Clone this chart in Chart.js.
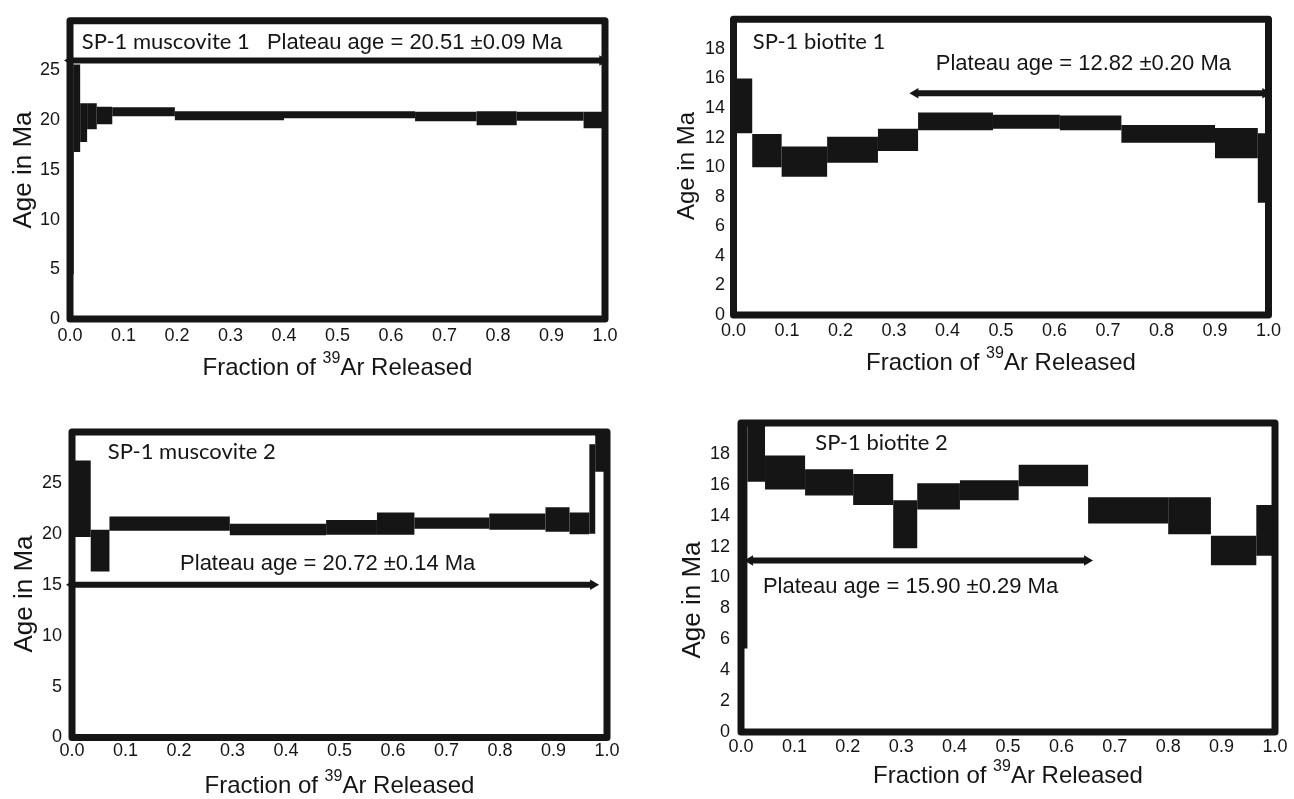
<!DOCTYPE html>
<html lang="en">
<head>
<meta charset="UTF-8" />
<title>SP-1 age spectra</title>
<script src="https://cdn.jsdelivr.net/npm/chart.js"></script>
<style>
  body { margin: 0; background: #fff; }
  .wrap { position: relative; width: 1294px; height: 799px; }
  canvas { position: absolute; left: 0; top: 0; }
</style>
</head>
<body>
<div class="wrap">
  <canvas id="mus1" width="1294" height="799"></canvas>
  <canvas id="bio1" width="1294" height="799"></canvas>
  <canvas id="mus2" width="1294" height="799"></canvas>
  <canvas id="bio2" width="1294" height="799"></canvas>
</div>
<script>
const INK = "#151515";

// step boundaries (cumulative fraction of 39Ar) and 2-sigma age bounds (Ma)
const mus1Steps = [0, 0.007, 0.019, 0.032, 0.05, 0.079, 0.196, 0.40, 0.645, 0.76, 0.835, 0.96, 1.0];
const mus1Lo = [4.5, 16.8, 17.8, 19.1, 19.6, 20.4, 20.0, 20.2, 19.9, 19.5, 19.95, 19.2];
const mus1Hi = [25.6, 25.6, 21.7, 21.7, 21.35, 21.3, 20.9, 20.9, 20.85, 20.9, 20.85, 20.85];
const mus1Plateau = { from: 0.0, to: 0.995, age: 26.0 };

const bio1Steps = [0, 0.035, 0.09, 0.175, 0.27, 0.345, 0.485, 0.61, 0.725, 0.9, 0.98, 1.0];
const bio1Lo = [12.3, 10.0, 9.35, 10.3, 11.1, 12.5, 12.6, 12.5, 11.65, 10.6, 7.6];
const bio1Hi = [16.0, 12.25, 11.4, 12.05, 12.6, 13.7, 13.55, 13.5, 12.85, 12.65, 12.3];
const bio1Plateau = { from: 0.34, to: 0.994, age: 15.0 };

const mus2Steps = [0, 0.035, 0.07, 0.295, 0.475, 0.57, 0.64, 0.78, 0.885, 0.93, 0.967, 0.978, 1.0];
const mus2Lo = [19.7, 16.3, 20.3, 19.85, 19.9, 19.9, 20.5, 20.4, 20.2, 19.95, 20.0, 26.1];
const mus2Hi = [27.2, 20.4, 21.7, 21.0, 21.35, 22.1, 21.6, 22.0, 22.6, 22.1, 28.8, 30.6];
const mus2Plateau = { from: 0.0, to: 0.974, age: 15.0 };

const bio2Steps = [0, 0.012, 0.045, 0.12, 0.21, 0.285, 0.33, 0.41, 0.52, 0.65, 0.80, 0.88, 0.965, 1.0];
const bio2Lo = [5.4, 16.2, 15.7, 15.3, 14.7, 11.9, 14.4, 15.0, 15.9, 13.5, 12.8, 10.8, 11.4];
const bio2Hi = [19.8, 20.3, 17.9, 17.0, 16.7, 15.0, 16.1, 16.3, 17.3, 15.2, 15.2, 12.7, 14.7];
const bio2Plateau = { from: 0.017, to: 0.648, age: 11.1 };

const xTicks = [0, 0.1, 0.2, 0.3, 0.4, 0.5, 0.6, 0.7, 0.8, 0.9, 1.0];

const SANS = "'Liberation Sans', Arial, sans-serif";

const frame = {
  id: "frame",
  afterDatasetsDraw(chart) {
    const { ctx, chartArea: a } = chart;
    ctx.save();
    ctx.lineWidth = 7;
    ctx.lineJoin = "round";
    ctx.strokeStyle = INK;
    ctx.strokeRect(a.left, a.top, a.right - a.left, a.bottom - a.top);
    ctx.restore();
  },
  afterDraw(chart, args, opts) {
    const { ctx, chartArea: a, scales } = chart;
    ctx.save();
    ctx.fillStyle = INK;
    ctx.textBaseline = "alphabetic";
    ctx.textAlign = "left";
    // labels inside the frame
    opts.notes.forEach((n) => {
      ctx.font = n.font;
      ctx.fillText(n.text, scales.x.getPixelForValue(n.x), scales.y.getPixelForValue(n.y));
    });
    // y axis title, rotated
    ctx.save();
    ctx.translate(opts.yTitle.x, opts.yTitle.y);
    ctx.rotate(-Math.PI / 2);
    ctx.textAlign = "center";
    ctx.textBaseline = "middle";
    ctx.font = opts.yTitle.size + "px " + SANS;
    ctx.fillText("Age in Ma", 0, 0);
    ctx.restore();
    // x axis title with superscript 39
    const big = "24px " + SANS;
    const small = "16px " + SANS;
    const p1 = "Fraction of ", sup = "39", p2 = "Ar Released";
    ctx.font = big;
    const w1 = ctx.measureText(p1).width, w3 = ctx.measureText(p2).width;
    ctx.font = small;
    const w2 = ctx.measureText(sup).width;
    let x = (a.left + a.right) / 2 - (w1 + w2 + w3) / 2;
    const y = opts.titleY;
    ctx.font = big;
    ctx.fillText(p1, x, y);
    x += w1;
    ctx.font = small;
    ctx.fillText(sup, x, y - 12);
    x += w2;
    ctx.font = big;
    ctx.fillText(p2, x, y);
    ctx.restore();
  },
};

function panel(id, p) {
  const boxes = p.lo.map((lo, i) => ({
    data: [
      { x: p.steps[i], y: lo },
      { x: p.steps[i + 1], y: lo },
      { x: p.steps[i + 1], y: p.hi[i] },
      { x: p.steps[i], y: p.hi[i] },
    ],
    fill: "shape",
    backgroundColor: INK,
    borderColor: "rgba(0,0,0,0)",
    borderWidth: 0,
    pointRadius: 0,
    clip: false,
  }));
  const arrow = {
    data: [
      { x: p.plateau.from, y: p.plateau.age },
      { x: p.plateau.to, y: p.plateau.age },
    ],
    borderColor: INK,
    borderWidth: 6,
    fill: false,
    pointStyle: "triangle",
    pointRadius: 6,
    pointRotation: [-90, 90],
    pointBackgroundColor: INK,
    pointBorderWidth: 0,
    clip: false,
  };
  const a = p.area;
  const yW = 60;
  const xH = 40;
  const tickFont = { family: SANS, size: 18 };

  new Chart(document.getElementById(id), {
    type: "line",
    data: { datasets: [...boxes, arrow] },
    options: {
      responsive: false,
      animation: false,
      events: [],
      layout: {
        padding: {
          left: a.left - yW,
          right: 1294 - a.right,
          top: a.top,
          bottom: 799 - a.bottom - xH,
        },
      },
      scales: {
        x: {
          type: "linear",
          min: 0,
          max: 1,
          afterFit: (s) => { s.height = xH; },
          afterBuildTicks: (s) => { s.ticks = xTicks.map((v) => ({ value: v })); },
          grid: { display: false, drawTicks: false },
          border: { display: false },
          ticks: {
            padding: p.xPad,
            color: INK,
            font: tickFont,
            maxRotation: 0,
            autoSkip: false,
            callback: (v) => v.toFixed(1),
          },
        },
        y: {
          type: "linear",
          min: 0,
          max: p.yMax,
          afterFit: (s) => { s.width = yW; },
          grid: { display: false, drawTicks: false },
          border: { display: false },
          ticks: {
            stepSize: p.yStep,
            padding: p.yPad,
            color: INK,
            font: tickFont,
            callback: (v) => (v === p.yMax ? "" : v),
          },
        },
      },
      plugins: {
        legend: { display: false },
        tooltip: { enabled: false },
        frame: { notes: p.notes, titleY: p.titleY, yTitle: p.yTitle },
      },
    },
    plugins: [frame],
  });
}

const nameFont = "22px Lato, 'Open Sans', sans-serif";
const ageFont = "22px " + SANS;

panel("mus1", {
  steps: mus1Steps, lo: mus1Lo, hi: mus1Hi, plateau: mus1Plateau,
  yMax: 30, yStep: 5,
  area: { left: 70, right: 605, top: 13.5, bottom: 319 },
  yTitle: { x: 24, y: 170, size: 26 }, yPad: 10, xPad: 6, titleY: 375,
  notes: [
    { text: "SP-1 muscovite 1", x: 0.022, y: 27.2, font: nameFont },
    { text: "Plateau age = 20.51 \u00b10.09 Ma", x: 0.368, y: 27.2, font: ageFont },
  ],
});

panel("bio1", {
  steps: bio1Steps, lo: bio1Lo, hi: bio1Hi, plateau: bio1Plateau,
  yMax: 20, yStep: 2,
  area: { left: 733.5, right: 1268.5, top: 10, bottom: 315 },
  yTitle: { x: 687, y: 166, size: 24 }, yPad: 8.5, xPad: 5, titleY: 370,
  notes: [
    { text: "SP-1 biotite 1", x: 0.036, y: 18.0, font: nameFont },
    { text: "Plateau age = 12.82 \u00b10.20 Ma", x: 0.378, y: 16.6, font: ageFont },
  ],
});

panel("mus2", {
  steps: mus2Steps, lo: mus2Lo, hi: mus2Hi, plateau: mus2Plateau,
  yMax: 30, yStep: 5,
  area: { left: 72, right: 607, top: 432, bottom: 737.5 },
  yTitle: { x: 25, y: 594, size: 26 }, yPad: 10, xPad: 3, titleY: 793,
  notes: [
    { text: "SP-1 muscovite 2", x: 0.067, y: 27.3, font: nameFont },
    { text: "Plateau age = 20.72 \u00b10.14 Ma", x: 0.202, y: 16.4, font: ageFont },
  ],
});

panel("bio2", {
  steps: bio2Steps, lo: bio2Lo, hi: bio2Hi, plateau: bio2Plateau,
  yMax: 20, yStep: 2,
  area: { left: 741, right: 1275, top: 423, bottom: 732 },
  yTitle: { x: 693, y: 600, size: 26 }, yPad: 11, xPad: 4, titleY: 783,
  notes: [
    { text: "SP-1 biotite 2", x: 0.139, y: 18.25, font: nameFont },
    { text: "Plateau age = 15.90 \u00b10.29 Ma", x: 0.041, y: 9.0, font: ageFont },
  ],
});
</script>
</body>
</html>
